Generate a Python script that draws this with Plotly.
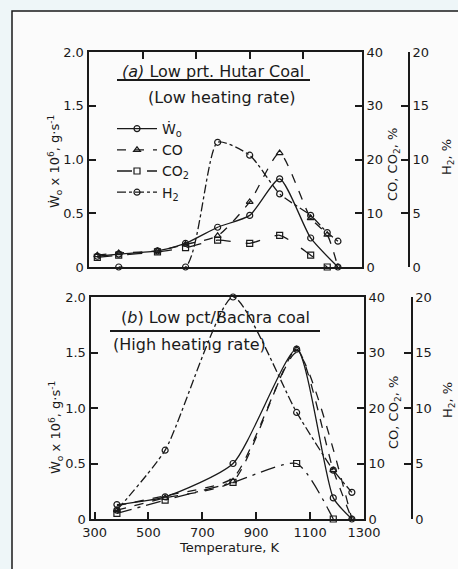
import plotly.graph_objects as go

# ---------------- Panel (a): Low prt. Hutar coal (low heating rate) -------------
a_T_W = [330, 410, 555, 660, 780, 900, 1012, 1128, 1230]
a_W = [0.10, 0.12, 0.15, 0.22, 0.37, 0.48, 0.82, 0.27, 0.0]
a_T_CO = [330, 410, 555, 660, 780, 900, 1012, 1128, 1190, 1230]
a_CO = [2.2, 2.6, 3.0, 4.2, 5.8, 12.1, 21.2, 9.1, 6.0, 0.0]
a_T_CO2 = [330, 410, 555, 660, 780, 900, 1012, 1128, 1190]
a_CO2 = [1.8, 2.2, 2.8, 3.6, 5.0, 4.4, 5.9, 2.2, 0.0]
a_T_H2 = [410, 660, 780, 900, 1012, 1128, 1190, 1230]
a_H2 = [0.0, 0.0, 11.6, 10.4, 6.8, 4.8, 3.2, 2.4]

# ---------------- Panel (b): Low pct Bachra coal (high heating rate) ------------
b_T = [383, 562, 814, 1050, 1186, 1255]
b_W = [0.13, 0.20, 0.50, 1.53, 0.19, 0.0]
b_CO = [1.6, 3.8, 6.8, 30.6, 8.8, 0.0]
b_T_CO2 = [383, 562, 814, 1050, 1186]
b_CO2 = [1.0, 3.4, 6.6, 10.0, 0.0]
b_H2 = [0.8, 6.2, 20.0, 9.6, 4.4, 2.4]
b_T_extra = [383, 562, 814, 1050, 1255]
b_extra = [2.4, 4.2, 7.4, 30.0, 0.0]

# ---------------- tick labels -------------
x_ticks = [300, 500, 700, 900, 1100, 1300]
w_ticks = [0, 0.5, 1.0, 1.5, 2.0]
w_text = ["0", "0.5", "1.0", "1.5", "2.0"]
co_ticks = [0, 10, 20, 30, 40]
h2_ticks = [0, 5, 10, 15, 20]

INK = "#1a1a1a"
FONT = "DejaVu Sans"
W, H = 458, 569

def px(x):
    return x / W

def py(y):
    return 1 - y / H

fig = go.Figure()

def add(x, y, xa, ya, dash, symbol, name, legend, mode="lines+markers"):
    fig.add_trace(go.Scatter(
        x=x, y=y, xaxis=xa, yaxis=ya, name=name, mode=mode,
        showlegend=legend, legendgroup=name,
        line=dict(color=INK, width=1.3, dash=dash, shape="spline", smoothing=0.6),
        marker=dict(symbol=symbol, size=6, color=INK, line=dict(color=INK, width=1.2)),
        cliponaxis=False,
    ))

Wname = "\u1E86<sub>o</sub>"
# panel (a)
add(a_T_W, a_W, "x2", "y4", "solid", "circle-open", Wname, True)
add(a_T_CO, a_CO, "x2", "y5", "dash", "triangle-up-open", "CO", True)
add(a_T_CO2, a_CO2, "x2", "y5", "longdash", "square-open", "CO<sub>2</sub>", True)
add(a_T_H2, a_H2, "x2", "y6", "dashdot", "circle-open", "H<sub>2</sub>", True)
# panel (b)
add(b_T, b_W, "x", "y", "solid", "circle-open", "bW", False)
add(b_T, b_CO, "x", "y2", "dash", "triangle-up-open", "bCO", False)
add(b_T_CO2, b_CO2, "x", "y2", "longdashdot", "square-open", "bCO2", False)
add(b_T, b_H2, "x", "y3", "dashdot", "circle-open", "bH2", False)
add(b_T_extra, b_extra, "x", "y2", "dash", "square-open", "bX", False, mode="lines")

tickfont = dict(family=FONT, size=13, color=INK)
axcommon = dict(showgrid=False, zeroline=False, showline=True, linecolor=INK,
                linewidth=2, ticks="inside", ticklen=7, tickwidth=1.5,
                tickcolor=INK, tickfont=tickfont)

dom_a_x = [px(88.5), px(362)]
dom_b_x = [px(90.5), px(364)]
dom_a_y = [py(267), py(52)]
dom_b_y = [py(519), py(297)]

fig.update_layout(
    width=W, height=H,
    margin=dict(l=0, r=0, t=0, b=0, autoexpand=False),
    paper_bgcolor="#eef6f8",
    plot_bgcolor="rgba(0,0,0,0)",
    font=dict(family=FONT, color=INK),
    xaxis=dict(domain=dom_b_x, range=[285, 1300], anchor="y", side="bottom",
               tickvals=x_ticks, mirror=True, **axcommon),
    yaxis=dict(domain=dom_b_y, range=[0, 2], anchor="x", tickvals=w_ticks,
               ticktext=w_text, **axcommon),
    yaxis2=dict(overlaying="y", side="right", anchor="x", range=[0, 40],
                tickvals=co_ticks, **axcommon),
    yaxis3=dict(overlaying="y", side="right", anchor="free", position=0.899,
                range=[0, 20], tickvals=h2_ticks, **axcommon),
    xaxis2=dict(domain=dom_a_x, range=[297, 1320], anchor="y4", side="top",
                tickvals=[500, 700, 900, 1100], showticklabels=False,
                mirror=True, **axcommon),
    yaxis4=dict(domain=dom_a_y, range=[0, 2], anchor="x2", tickvals=w_ticks,
                ticktext=w_text, **axcommon),
    yaxis5=dict(overlaying="y4", side="right", anchor="x2", range=[0, 40],
                tickvals=co_ticks, **axcommon),
    yaxis6=dict(overlaying="y4", side="right", anchor="free", position=0.893,
                range=[0, 20], tickvals=h2_ticks, **axcommon),
    legend=dict(x=px(112), y=py(113), xanchor="left", yanchor="top",
                bgcolor="rgba(0,0,0,0)", font=dict(family=FONT, size=14, color=INK),
                itemwidth=40, tracegroupgap=0),
)

shapes = [
    dict(type="rect", xref="paper", yref="paper", x0=px(12), x1=1.02, y0=-0.02,
         y1=py(11), fillcolor="#fbfbfb", line=dict(color=INK, width=1.5), layer="below"),
    dict(type="line", xref="paper", yref="paper", x0=px(117), x1=px(310),
         y0=py(80), y1=py(80), line=dict(color=INK, width=2)),
    dict(type="line", xref="paper", yref="paper", x0=px(110), x1=px(320),
         y0=py(331), y1=py(331), line=dict(color=INK, width=2)),
]
fig.update_layout(shapes=shapes)

def ann(text, x, y, size=14, angle=0):
    fig.add_annotation(text=text, x=px(x), y=py(y), xref="paper", yref="paper",
                       showarrow=False, textangle=angle, xanchor="center",
                       yanchor="middle", font=dict(family=FONT, size=size, color=INK))

ann("<i>(a)</i> Low prt. Hutar Coal", 213, 71, 16)
ann("(Low heating rate)", 221, 97, 16)
ann("(<i>b</i>) Low pct/Bachra coal", 215, 317, 16)
ann("(High heating rate)", 189, 344, 16)
ann("\u1E86<sub>o</sub> x 10<sup>6</sup>, g\u00b7s<sup>-1</sup>", 55, 162, 13, -90)
ann("\u1E86<sub>o</sub> x 10<sup>6</sup>, g\u00b7s<sup>-1</sup>", 56, 428, 13, -90)
ann("CO, CO<sub>2</sub>, %", 393, 165, 13, -90)
ann("CO, CO<sub>2</sub>, %", 394, 413, 13, -90)
ann("H<sub>2</sub>, %", 447, 157, 13, -90)
ann("H<sub>2</sub>, %", 448, 400, 13, -90)
ann("Temperature, K", 230, 547, 13)

fig.write_html(
    "out.html",
    config={"displayModeBar": False},
    post_script="document.body.style.margin='0';document.body.style.overflow='hidden';",
)
